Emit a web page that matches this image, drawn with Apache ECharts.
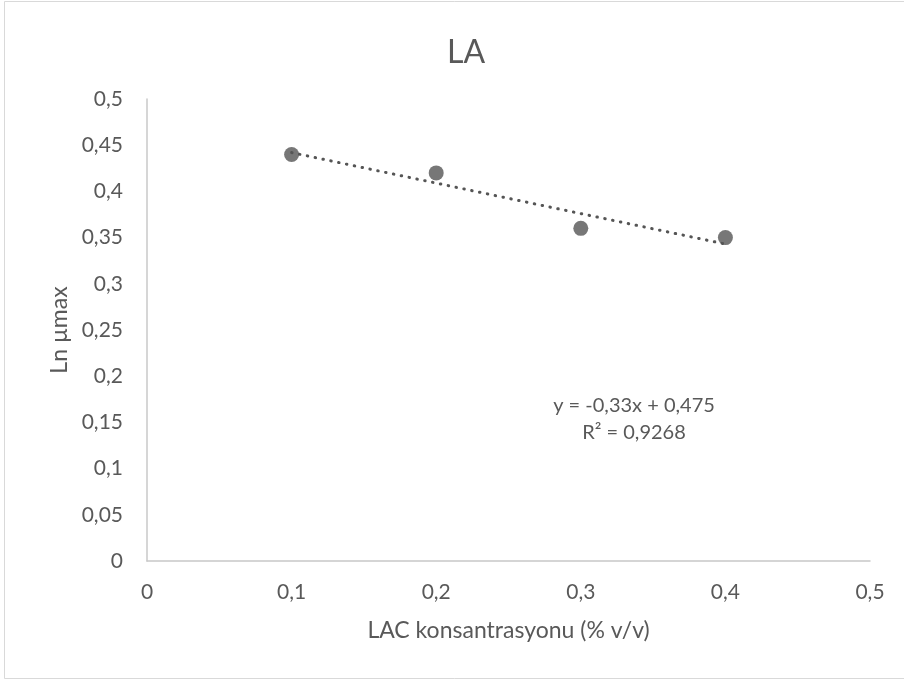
<!DOCTYPE html>
<html>
<head>
<meta charset="utf-8">
<script src="https://cdn.jsdelivr.net/npm/echarts@6/dist/echarts.min.js"></script>
<style>
html,body{margin:0;padding:0;background:#fff;}
#chart{width:904px;height:681px;}
</style>
</head>
<body>
<div id="chart"></div>
<script>
const xValues = [0.1, 0.2, 0.3, 0.4];
const yValues = [0.44, 0.42, 0.36, 0.35];
const trendSlope = -0.33;
const trendIntercept = 0.475;
const trendRange = [0.1, 0.4];
const equationLines = ['y = -0,33x + 0,475', 'R² = 0,9268'];
const titleText = 'LA';
const xAxisName = 'LAC konsantrasyonu (% v/v)';
const yAxisName = 'Ln µmax';

const FONT = 'Lato';
const TXT = '#595959';
const fmt = v => String(+v.toFixed(2)).replace('.', ',');

const points = xValues.map((x, i) => [x, yValues[i]]);
const trend = trendRange.map(x => [x, trendSlope * x + trendIntercept]);

const chart = echarts.init(document.getElementById('chart'), null, {renderer: 'canvas'});
chart.setOption({
  backgroundColor: '#fff',
  animation: false,
  textStyle: {fontFamily: FONT},
  title: {
    text: titleText, left: 442, top: 32,
    textStyle: {fontFamily: FONT, fontSize: 32, fontWeight: 'normal', color: TXT}
  },
  grid: {left: 147, right: 34, top: 99, bottom: 120, containLabel: false},
  xAxis: {
    type: 'value', min: 0, max: 0.5, interval: 0.1,
    name: xAxisName, nameLocation: 'middle', nameGap: 58,
    nameTextStyle: {fontFamily: FONT, fontSize: 23, color: TXT},
    axisLine: {show: true, onZero: false, lineStyle: {color: '#c8c8c8', width: 1.5}},
    axisTick: {show: false},
    splitLine: {show: false},
    axisLabel: {fontFamily: FONT, fontSize: 21, color: TXT, margin: 21, formatter: fmt}
  },
  yAxis: {
    type: 'value', min: 0, max: 0.5, interval: 0.05,
    name: yAxisName, nameLocation: 'middle', nameGap: 70, nameRotate: 90,
    nameTextStyle: {fontFamily: FONT, fontSize: 23, color: TXT},
    axisLine: {show: true, onZero: false, lineStyle: {color: '#c8c8c8', width: 1.5}},
    axisTick: {show: false},
    splitLine: {show: false},
    axisLabel: {fontFamily: FONT, fontSize: 21, color: TXT, margin: 24, formatter: fmt}
  },
  graphic: [
    {type: 'rect', shape: {x: 4.5, y: 1.5, width: 940, height: 677}, style: {fill: 'none', stroke: '#d9d9d9', lineWidth: 1}, silent: true},
    {type: 'text', x: 634, y: 392, style: {text: equationLines.join('\n'), font: '20px ' + FONT, fill: TXT, align: 'center', verticalAlign: 'top', lineHeight: 27}},
  ],
  series: [
    {
      type: 'line', data: trend, symbol: 'none', z: 2,
      lineStyle: {color: '#555555', width: 3, type: [0.5, 7.5], cap: 'round'}
    },
    {
      type: 'scatter', data: points, symbol: 'circle', symbolSize: 15, z: 3,
      itemStyle: {color: '#555555'}
    }
  ]
});
</script>
</body>
</html>
